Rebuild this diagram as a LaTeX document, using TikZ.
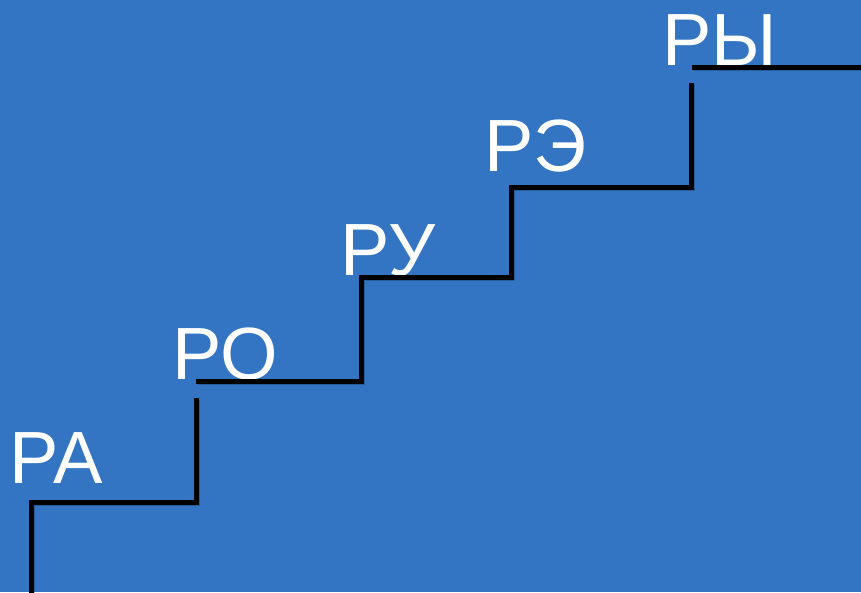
\documentclass[tikz,border=0pt]{standalone}
\usepackage{fontspec}
\setmainfont{Liberation Sans}
\usepackage{tikz}
\usetikzlibrary{positioning}
\definecolor{bgBlue}{RGB}{51,117,194}
\tikzstyle{stepText} = [text=white,inner sep=0pt,anchor=base west,font=\fontsize{74}{84}\selectfont]
\tikzstyle{stairLine} = [draw=black,line width=5pt,line cap=butt,line join=miter]
\tikzstyle{stairShadow} = [draw=black,opacity=0.2,line width=5.5pt,line cap=butt,line join=miter,xshift=1.5pt,yshift=-1.5pt]

\begin{document}
\begin{tikzpicture}[x=1pt,y=-1pt]
		\fill[bgBlue](0,0) rectangle (861,592);
		\useasboundingbox (0,0) rectangle (861,592);
		%texts
		\node[stepText](stepA) at (9,483){РА};
		\node[stepText](stepO) at (172,379){РО};
		\node[stepText](stepU) at (340,275){РУ};
		\node[stepText](stepE) at (484,171){РЭ};
		\node[stepText](stepY) at (662,65){РЫ};
		%stairs
		\path[stairShadow](31,600)--(31,502)--(196,502)--(196,398);
		\path[stairShadow](196,381)--(361,381)--(361,277)--(511,277)--(511,187)--(691,187)--(691,83);
		\path[stairShadow](692,67)--(870,67);
		\path[stairLine](31,600)--(31,502)--(196,502)--(196,398);
		\path[stairLine](196,381)--(361,381)--(361,277)--(511,277)--(511,187)--(691,187)--(691,83);
		\path[stairLine](692,67)--(870,67);
	\end{tikzpicture}
\end{document}
